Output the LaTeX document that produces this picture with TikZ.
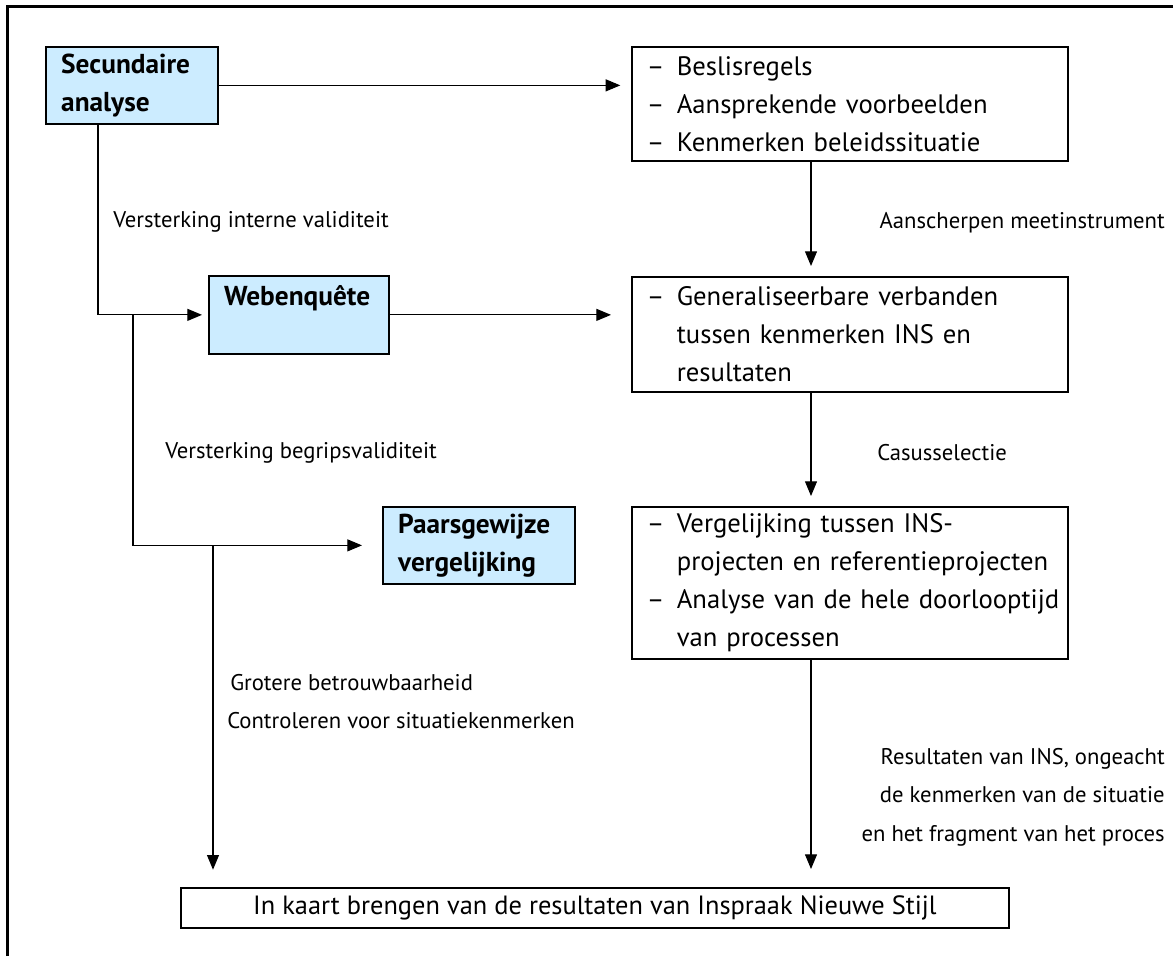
\documentclass[tikz,border=0pt]{standalone}
\usepackage{fontspec}
\setmainfont{PT Sans}
\usetikzlibrary{arrows.meta,positioning}
\definecolor{lichtblauw}{HTML}{CCECFF}
\newcommand{\streep}{\hspace*{6.25pt}\makebox[22.5pt][l]{–}}
\newcommand{\inspring}{\hspace*{28.75pt}}

\begin{document}
\begin{tikzpicture}[x=0.75pt,y=-0.75pt,
    blok/.style={draw,line width=1.3pt,inner ysep=0pt,anchor=north west,align=left},
    methode/.style={blok,fill=lichtblauw,inner xsep=11.5pt,font=\bfseries\fontsize{20.5}{28.5}\selectfont},
    lijst/.style={blok,inner xsep=5pt,text width=317pt,minimum width=327pt,font=\fontsize{20}{28.5}\selectfont},
    uitleg/.style={inner sep=0pt,font=\fontsize{17}{28.8}\selectfont},
    lijn/.style={line width=0.8pt},
    pijl/.style={lijn,-{Triangle[length=11pt,width=9pt]}}]
  \useasboundingbox (0,0) rectangle (1173,956);
  % kader
  \draw[line width=1.6pt] (7.5,956) |- (1173,6.5);
  % methoden
  \node[methode,text width=106pt,minimum height=57.75pt] (sec) at (45,46) {Secundaire\\analyse};
  \node[methode,text width=112pt,minimum height=58.5pt] (web) at (208,275) {Webenquête\\\mbox{}};
  \node[methode,text width=121pt,minimum height=57.75pt] (paar) at (382,506) {Paarsgewijze\\vergelijking};
  % resultaten per methode
  \node[lijst,minimum height=85.5pt] (regels) at (631,46)
    {\streep Beslisregels\\\streep Aansprekende voorbeelden\\\streep Kenmerken beleidssituatie};
  \node[lijst,minimum height=86.25pt] (verbanden) at (631,276)
    {\streep Generaliseerbare verbanden\\\inspring tussen kenmerken INS en\\\inspring resultaten};
  \node[lijst,minimum height=114pt] (vergelijking) at (631,506)
    {\streep Vergelijking tussen INS-\\\inspring projecten en referentieprojecten\\\streep Analyse van de hele doorlooptijd\\\inspring van processen};
  \node[blok,align=center,minimum width=621pt,minimum height=30pt,font=\fontsize{19.8}{28.5}\selectfont] (res) at (180,887)
    {In kaart brengen van de resultaten van Inspraak Nieuwe Stijl};
  % pijlen
  \coordinate (tak1) at (98,0);
  \coordinate (tak2) at (133,0);
  \coordinate (tak3) at (213,0);
  \coordinate (as) at (811,0);
  \draw[pijl,shorten >=8pt] (sec.east) -- (regels.west |- sec.east);
  \draw[pijl,shorten >=15pt] (web.east) -- (verbanden.west |- web.east);
  \draw[pijl,shorten >=4.5pt] (tak1 |- sec.south) |- (web.west);
  \draw[pijl,shorten >=15pt] (tak2 |- web.west) |- (paar.west);
  \draw[pijl,shorten >=13pt] (tak3 |- paar.west) -- (tak3 |- res.north);
  \draw[pijl,shorten >=7.5pt] (as |- regels.south) -- (as |- verbanden.north);
  \draw[pijl,shorten >=7.5pt] (as |- verbanden.south) -- (as |- vergelijking.north);
  \draw[pijl,shorten >=13.5pt] (as |- vergelijking.south) -- (as |- res.north);
  % toelichting
  \node[uitleg,anchor=west] (intern) at (113,222) {Versterking interne validiteit};
  \node[uitleg,anchor=east] (scherp) at (1165,223) {Aanscherpen meetinstrument};
  \node[uitleg,anchor=west] (begrip) at (165,453) {Versterking begripsvaliditeit};
  \node[uitleg,anchor=west] (casus) at (877,453) {Casusselectie};
  \node[uitleg,anchor=west] (betrouw) at (230,683) {Grotere betrouwbaarheid};
  \node[uitleg,anchor=west] (contr) at (227,721) {Controleren voor situatiekenmerken};
  \node[uitleg,anchor=east,align=right] (ongeacht) at (1165,797)
    {Resultaten van INS, ongeacht\\de kenmerken van de situatie\\en het fragment van het proces};
\end{tikzpicture}
\end{document}
